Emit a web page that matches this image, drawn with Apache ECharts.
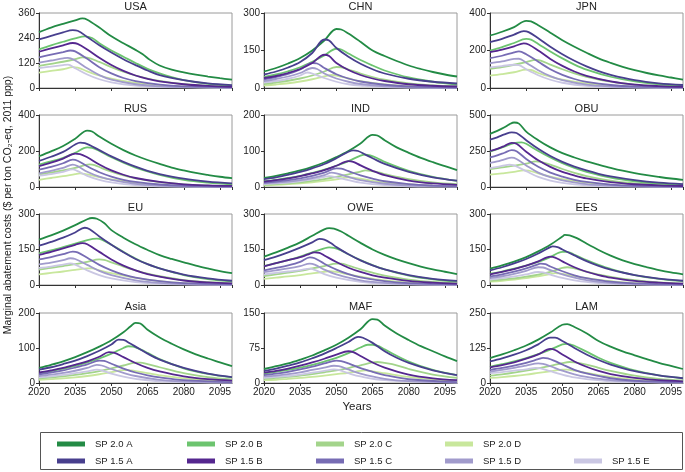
<!DOCTYPE html>
<html><head><meta charset="utf-8">
<script src="https://cdn.jsdelivr.net/npm/echarts@6/dist/echarts.min.js"></script>
<style>html,body{margin:0;padding:0;background:#fff}#c{width:685px;height:472px}</style>
</head><body><div id="c"></div>
<script>
// Scenario names (order of the arrays inside each region)
const scenarios = ['SP 2.0 A','SP 2.0 B','SP 2.0 C','SP 2.0 D','SP 1.5 A','SP 1.5 B','SP 1.5 C','SP 1.5 D','SP 1.5 E'];
const regions = ['USA','CHN','JPN','RUS','IND','OBU','EU','OWE','EES','Asia','MAF','LAM'];
const yMax = [360,300,400,400,200,500,300,300,300,200,150,250];
const yStep = [120,150,200,200,100,250,150,150,150,100,75,125];
const xTickLabels = ['2020','2035','2050','2065','2080','2095'];

// [year, value] pairs per scenario
const USA = [
 [[2020,268],[2025,290],[2030,308],[2035,325],[2038,334],[2040,328],[2045,290],[2050,248],[2055,215],[2060,183],[2063,162],[2066,135],[2070,108],[2075,88],[2080,75],[2085,64],[2090,55],[2095,47],[2100,40]],
 [[2020,185],[2025,205],[2030,222],[2035,238],[2039,248],[2042,240],[2045,215],[2050,180],[2055,150],[2060,120],[2065,92],[2070,70],[2075,52],[2080,38],[2090,20],[2100,10]],
 [[2020,106],[2025,116],[2030,126],[2035,138],[2038,147],[2040,146],[2045,125],[2050,100],[2055,78],[2060,60],[2070,34],[2080,18],[2090,10],[2100,5]],
 [[2020,74],[2025,82],[2030,90],[2034,100],[2036,98],[2040,80],[2045,60],[2050,45],[2060,24],[2070,12],[2080,6],[2100,2]],
 [[2020,233],[2025,250],[2030,267],[2034,278],[2036,275],[2040,245],[2045,205],[2050,170],[2055,138],[2060,110],[2065,84],[2070,62],[2080,38],[2090,22],[2100,14]],
 [[2020,174],[2025,190],[2030,205],[2034,216],[2036,212],[2040,185],[2045,145],[2050,110],[2055,82],[2060,60],[2065,44],[2070,32],[2080,18],[2090,10],[2100,6]],
 [[2020,147],[2025,160],[2030,172],[2033,180],[2035,176],[2040,140],[2045,100],[2050,70],[2055,48],[2060,33],[2070,16],[2080,8],[2100,3]],
 [[2020,122],[2025,132],[2030,142],[2032,145],[2035,132],[2040,95],[2045,62],[2050,40],[2060,18],[2070,8],[2080,4],[2100,1]],
 [[2020,95],[2025,103],[2030,110],[2032,112],[2035,95],[2040,65],[2045,42],[2050,27],[2060,11],[2070,5],[2100,1]]
];
const CHN = [
 [[2020,66],[2025,80],[2030,98],[2035,120],[2040,150],[2045,190],[2050,236],[2052,234],[2055,218],[2060,185],[2065,150],[2070,128],[2075,108],[2080,90],[2085,76],[2090,64],[2095,54],[2100,46]],
 [[2020,44],[2025,54],[2030,67],[2035,83],[2040,105],[2045,130],[2050,157],[2052,154],[2055,138],[2060,112],[2065,90],[2070,70],[2080,42],[2090,25],[2100,14]],
 [[2020,16],[2025,22],[2030,29],[2035,38],[2040,50],[2045,66],[2050,84],[2052,83],[2055,74],[2060,58],[2065,44],[2070,33],[2080,18],[2090,10],[2100,6]],
 [[2020,10],[2025,14],[2030,19],[2035,26],[2040,35],[2045,46],[2048,52],[2050,50],[2055,38],[2060,27],[2070,14],[2080,7],[2100,2]],
 [[2020,54],[2025,66],[2030,82],[2035,104],[2040,140],[2045,194],[2047,190],[2050,160],[2055,125],[2060,97],[2065,75],[2070,58],[2080,37],[2090,25],[2100,18]],
 [[2020,40],[2025,48],[2030,60],[2035,76],[2040,100],[2045,133],[2047,128],[2050,100],[2055,72],[2060,52],[2065,38],[2070,28],[2080,15],[2090,9],[2100,6]],
 [[2020,35],[2025,44],[2030,56],[2035,74],[2040,100],[2042,98],[2045,80],[2050,55],[2055,38],[2060,26],[2070,13],[2080,6],[2100,2]],
 [[2020,28],[2025,36],[2030,46],[2035,60],[2040,80],[2042,76],[2045,58],[2050,38],[2055,25],[2060,16],[2070,7],[2080,3],[2100,1]],
 [[2020,22],[2025,28],[2030,37],[2035,50],[2038,62],[2040,58],[2045,40],[2050,25],[2055,15],[2060,10],[2070,4],[2100,1]]
];
const JPN = [
 [[2020,280],[2025,300],[2030,325],[2035,358],[2037,355],[2040,335],[2045,295],[2050,255],[2055,220],[2060,188],[2065,158],[2070,134],[2075,113],[2080,95],[2085,80],[2090,67],[2095,56],[2100,45]],
 [[2020,200],[2025,218],[2030,240],[2035,262],[2037,258],[2040,235],[2045,195],[2050,158],[2055,125],[2060,98],[2070,60],[2080,35],[2090,20],[2100,12]],
 [[2020,102],[2025,112],[2030,124],[2035,138],[2039,150],[2041,146],[2045,125],[2050,100],[2055,78],[2060,60],[2070,34],[2080,18],[2090,10],[2100,5]],
 [[2020,66],[2025,74],[2030,84],[2035,98],[2037,96],[2040,80],[2045,60],[2050,44],[2060,24],[2070,12],[2080,6],[2100,2]],
 [[2020,245],[2025,262],[2030,285],[2034,303],[2036,298],[2040,265],[2045,220],[2050,180],[2055,145],[2060,115],[2065,90],[2070,70],[2080,42],[2090,25],[2100,16]],
 [[2020,191],[2025,205],[2030,222],[2034,238],[2036,232],[2040,200],[2045,155],[2050,118],[2055,88],[2060,65],[2070,35],[2080,18],[2090,10],[2100,6]],
 [[2020,159],[2025,172],[2030,190],[2032,195],[2035,180],[2040,140],[2045,100],[2050,70],[2055,48],[2060,33],[2070,16],[2080,8],[2100,3]],
 [[2020,132],[2025,142],[2030,155],[2032,156],[2035,135],[2040,95],[2045,63],[2050,42],[2060,18],[2070,8],[2080,4],[2100,1]],
 [[2020,110],[2025,117],[2030,124],[2032,122],[2035,100],[2040,68],[2045,44],[2050,28],[2060,11],[2070,5],[2100,1]]
];
const RUS = [
 [[2020,171],[2025,198],[2030,228],[2035,268],[2040,313],[2042,308],[2045,280],[2050,240],[2055,205],[2060,175],[2065,150],[2070,128],[2075,108],[2080,92],[2085,78],[2090,67],[2095,57],[2100,49]],
 [[2020,125],[2025,142],[2030,162],[2035,190],[2040,220],[2042,218],[2045,200],[2050,165],[2055,135],[2060,108],[2070,68],[2080,40],[2090,24],[2100,14]],
 [[2020,70],[2025,80],[2030,92],[2035,106],[2041,126],[2043,122],[2046,105],[2050,85],[2055,64],[2060,48],[2070,27],[2080,15],[2090,8],[2100,4]],
 [[2020,40],[2025,50],[2030,60],[2035,72],[2037,76],[2040,70],[2045,55],[2050,42],[2060,24],[2070,12],[2080,6],[2100,2]],
 [[2020,145],[2025,168],[2030,195],[2035,236],[2037,247],[2039,244],[2045,205],[2050,170],[2055,140],[2060,113],[2065,90],[2070,72],[2080,46],[2090,30],[2100,20]],
 [[2020,116],[2025,135],[2030,158],[2035,185],[2037,183],[2040,165],[2045,125],[2050,92],[2055,68],[2060,50],[2070,28],[2080,15],[2090,9],[2100,6]],
 [[2020,97],[2025,112],[2030,132],[2034,152],[2036,146],[2040,115],[2045,82],[2050,58],[2055,40],[2060,28],[2070,14],[2080,7],[2100,2]],
 [[2020,76],[2025,90],[2030,106],[2034,124],[2036,116],[2040,85],[2045,58],[2050,40],[2060,18],[2070,8],[2080,4],[2100,1]],
 [[2020,63],[2025,72],[2030,84],[2034,98],[2036,88],[2040,62],[2045,40],[2050,26],[2060,10],[2070,4],[2100,1]]
];
const IND = [
 [[2020,25],[2025,31],[2030,38],[2035,46],[2040,56],[2045,68],[2050,83],[2055,100],[2060,121],[2065,145],[2067,143],[2070,130],[2075,110],[2080,95],[2085,81],[2090,69],[2095,58],[2100,47]],
 [[2020,16],[2025,20],[2030,25],[2035,31],[2040,39],[2045,48],[2050,59],[2055,72],[2060,87],[2062,90],[2064,88],[2067,80],[2070,70],[2080,45],[2090,28],[2100,17]],
 [[2020,6],[2025,8],[2030,10],[2035,13],[2040,17],[2045,22],[2050,28],[2055,35],[2060,43],[2062,46],[2064,45],[2068,40],[2070,36],[2080,22],[2090,13],[2100,8]],
 [[2020,4],[2025,6],[2030,8],[2035,10],[2040,13],[2045,17],[2050,21],[2055,27],[2057,26],[2060,23],[2065,17],[2070,12],[2080,7],[2090,4],[2100,2]],
 [[2020,22],[2025,27],[2030,34],[2035,42],[2040,52],[2045,64],[2050,80],[2055,98],[2057,102],[2059,100],[2062,90],[2065,80],[2070,64],[2080,42],[2090,27],[2100,18]],
 [[2020,15],[2025,19],[2030,24],[2035,30],[2040,38],[2045,47],[2050,59],[2055,72],[2057,70],[2060,60],[2065,45],[2070,33],[2080,18],[2090,10],[2100,6]],
 [[2020,12],[2025,15],[2030,19],[2035,24],[2040,31],[2045,40],[2050,52],[2052,51],[2055,44],[2060,32],[2065,23],[2070,16],[2080,8],[2090,4],[2100,2]],
 [[2020,10],[2025,12],[2030,15],[2035,19],[2040,25],[2045,33],[2048,40],[2050,38],[2055,28],[2060,19],[2070,9],[2080,4],[2100,1]],
 [[2020,8],[2025,10],[2030,12],[2035,16],[2040,21],[2045,28],[2047,30],[2050,27],[2055,19],[2060,12],[2070,5],[2080,2],[2100,1]]
];
const OBU = [
 [[2020,369],[2023,390],[2026,415],[2028,435],[2030,448],[2032,440],[2035,385],[2040,325],[2045,275],[2050,235],[2055,205],[2060,178],[2065,155],[2070,133],[2075,113],[2080,96],[2085,82],[2090,70],[2095,59],[2100,50]],
 [[2020,245],[2025,275],[2030,305],[2033,310],[2035,300],[2040,250],[2045,205],[2050,165],[2055,132],[2060,105],[2070,65],[2080,40],[2090,24],[2100,15]],
 [[2020,125],[2025,136],[2030,148],[2035,162],[2039,178],[2041,175],[2045,155],[2050,125],[2055,98],[2060,76],[2070,44],[2080,25],[2090,14],[2100,8]],
 [[2020,86],[2025,95],[2030,105],[2034,116],[2036,114],[2040,95],[2045,72],[2050,54],[2060,30],[2070,16],[2080,8],[2100,2]],
 [[2020,329],[2023,345],[2026,365],[2029,380],[2031,375],[2035,325],[2040,265],[2045,215],[2050,175],[2055,142],[2060,115],[2065,92],[2070,74],[2080,48],[2090,30],[2100,20]],
 [[2020,250],[2023,265],[2026,285],[2029,307],[2031,300],[2035,245],[2040,185],[2045,140],[2050,105],[2055,80],[2060,60],[2070,34],[2080,19],[2090,11],[2100,7]],
 [[2020,205],[2023,220],[2026,238],[2029,256],[2031,248],[2035,195],[2040,140],[2045,100],[2050,72],[2055,50],[2060,35],[2070,17],[2080,8],[2100,3]],
 [[2020,167],[2023,178],[2026,192],[2029,204],[2031,195],[2035,150],[2040,100],[2045,68],[2050,46],[2060,20],[2070,9],[2080,4],[2100,1]],
 [[2020,131],[2023,140],[2026,150],[2028,156],[2030,150],[2035,110],[2040,70],[2045,45],[2050,29],[2060,12],[2070,5],[2100,1]]
];
const EU = [
 [[2020,192],[2025,210],[2030,230],[2035,253],[2040,278],[2042,283],[2044,280],[2047,262],[2050,232],[2055,200],[2060,172],[2065,148],[2070,126],[2075,110],[2080,96],[2085,82],[2090,70],[2095,59],[2100,50]],
 [[2020,134],[2025,146],[2030,160],[2035,175],[2040,190],[2044,196],[2046,192],[2050,170],[2055,140],[2060,112],[2065,88],[2070,70],[2080,42],[2090,25],[2100,15]],
 [[2020,65],[2025,72],[2030,80],[2035,88],[2040,98],[2045,108],[2047,106],[2050,96],[2055,78],[2060,62],[2065,48],[2070,37],[2080,21],[2090,12],[2100,7]],
 [[2020,45],[2025,51],[2030,57],[2035,64],[2040,70],[2042,70],[2045,62],[2050,50],[2060,30],[2070,16],[2080,8],[2100,2]],
 [[2020,166],[2025,182],[2030,200],[2035,222],[2039,242],[2041,236],[2045,205],[2050,170],[2055,138],[2060,110],[2065,88],[2070,70],[2080,44],[2090,28],[2100,18]],
 [[2020,127],[2025,140],[2030,155],[2035,170],[2038,177],[2040,172],[2045,140],[2050,108],[2055,82],[2060,62],[2065,46],[2070,35],[2080,19],[2090,11],[2100,7]],
 [[2020,108],[2025,118],[2030,130],[2034,141],[2036,138],[2040,115],[2045,85],[2050,62],[2055,44],[2060,31],[2070,16],[2080,8],[2100,3]],
 [[2020,87],[2025,95],[2030,105],[2033,113],[2035,110],[2040,85],[2045,60],[2050,42],[2060,20],[2070,9],[2080,4],[2100,1]],
 [[2020,72],[2025,78],[2030,86],[2033,91],[2035,86],[2040,62],[2045,42],[2050,28],[2060,12],[2070,5],[2100,1]]
];
const OWE = [
 [[2020,120],[2025,138],[2030,158],[2035,180],[2040,208],[2045,235],[2047,240],[2049,238],[2052,226],[2055,208],[2060,178],[2065,150],[2070,127],[2075,108],[2080,92],[2085,78],[2090,66],[2095,56],[2100,46]],
 [[2020,80],[2025,92],[2030,105],[2035,120],[2040,138],[2045,155],[2047,159],[2049,157],[2052,146],[2055,130],[2060,105],[2065,84],[2070,66],[2080,40],[2090,24],[2100,14]],
 [[2020,38],[2025,45],[2030,52],[2035,60],[2040,70],[2045,80],[2050,90],[2052,90],[2055,82],[2060,66],[2065,52],[2070,40],[2080,23],[2090,13],[2100,7]],
 [[2020,26],[2025,31],[2030,36],[2035,42],[2040,49],[2045,56],[2047,58],[2050,55],[2055,45],[2060,35],[2070,19],[2080,10],[2100,3]],
 [[2020,105],[2025,120],[2030,138],[2035,158],[2040,180],[2043,195],[2045,192],[2048,175],[2050,160],[2055,130],[2060,104],[2065,83],[2070,66],[2080,42],[2090,26],[2100,17]],
 [[2020,79],[2025,92],[2030,105],[2035,118],[2038,128],[2041,138],[2043,136],[2045,125],[2050,97],[2055,73],[2060,55],[2065,41],[2070,31],[2080,17],[2090,10],[2100,6]],
 [[2020,62],[2025,72],[2030,83],[2035,98],[2039,117],[2041,113],[2045,90],[2050,65],[2055,46],[2060,32],[2070,16],[2080,8],[2100,3]],
 [[2020,55],[2025,62],[2030,70],[2035,80],[2039,90],[2041,86],[2045,65],[2050,45],[2060,20],[2070,9],[2080,4],[2100,1]],
 [[2020,45],[2025,51],[2030,57],[2035,63],[2039,69],[2041,64],[2045,46],[2050,31],[2060,13],[2070,5],[2100,1]]
];
const EES = [
 [[2020,69],[2025,83],[2030,99],[2035,118],[2040,142],[2045,170],[2050,205],[2051,212],[2053,210],[2056,198],[2060,175],[2065,148],[2070,124],[2075,104],[2080,88],[2085,75],[2090,63],[2095,53],[2100,45]],
 [[2020,48],[2025,57],[2030,69],[2035,82],[2040,98],[2045,118],[2050,140],[2052,140],[2055,128],[2060,105],[2065,85],[2070,68],[2080,42],[2090,26],[2100,16]],
 [[2020,18],[2025,23],[2030,28],[2035,35],[2040,44],[2045,55],[2050,72],[2052,75],[2055,70],[2060,56],[2065,44],[2070,34],[2080,20],[2090,11],[2100,6]],
 [[2020,14],[2025,18],[2030,23],[2035,29],[2040,37],[2045,46],[2047,50],[2050,47],[2055,38],[2060,29],[2070,16],[2080,8],[2100,3]],
 [[2020,62],[2025,75],[2030,91],[2035,110],[2040,133],[2045,160],[2046,163],[2048,160],[2050,150],[2055,125],[2060,101],[2065,81],[2070,65],[2080,42],[2090,27],[2100,18]],
 [[2020,45],[2025,55],[2030,67],[2035,82],[2040,100],[2045,120],[2047,116],[2050,100],[2055,75],[2060,56],[2065,42],[2070,31],[2080,17],[2090,10],[2100,6]],
 [[2020,36],[2025,45],[2030,56],[2035,70],[2039,84],[2041,90],[2043,88],[2045,78],[2050,58],[2055,41],[2060,29],[2070,14],[2080,7],[2100,2]],
 [[2020,29],[2025,37],[2030,47],[2035,60],[2040,75],[2042,74],[2045,63],[2050,45],[2055,31],[2060,21],[2070,9],[2080,4],[2100,1]],
 [[2020,23],[2025,29],[2030,36],[2035,45],[2040,55],[2042,53],[2045,44],[2050,30],[2055,20],[2060,13],[2070,5],[2100,1]]
];
const Asia = [
 [[2020,43],[2025,52],[2030,62],[2035,74],[2040,88],[2045,104],[2050,122],[2055,145],[2058,162],[2060,172],[2062,170],[2065,152],[2070,130],[2075,112],[2080,96],[2085,82],[2090,70],[2095,59],[2100,48]],
 [[2020,28],[2025,34],[2030,41],[2035,49],[2040,59],[2045,70],[2050,84],[2055,100],[2057,105],[2059,104],[2062,96],[2065,86],[2070,68],[2080,42],[2090,26],[2100,16]],
 [[2020,13],[2025,16],[2030,19],[2035,23],[2040,28],[2045,34],[2050,42],[2055,50],[2060,58],[2062,58],[2065,54],[2070,45],[2080,28],[2090,17],[2100,10]],
 [[2020,9],[2025,11],[2030,13],[2035,16],[2040,20],[2045,25],[2050,31],[2055,37],[2057,37],[2060,34],[2065,28],[2070,22],[2080,13],[2090,8],[2100,4]],
 [[2020,38],[2025,45],[2030,54],[2035,64],[2040,77],[2045,92],[2050,110],[2053,124],[2055,123],[2058,112],[2060,104],[2065,84],[2070,67],[2080,43],[2090,27],[2100,17]],
 [[2020,30],[2025,36],[2030,43],[2035,52],[2040,62],[2045,75],[2049,88],[2051,87],[2055,74],[2060,57],[2065,43],[2070,33],[2080,19],[2090,11],[2100,7]],
 [[2020,25],[2025,30],[2030,36],[2035,44],[2040,53],[2045,64],[2047,63],[2050,55],[2055,41],[2060,30],[2065,22],[2070,16],[2080,8],[2100,2]],
 [[2020,20],[2025,24],[2030,29],[2035,35],[2040,43],[2044,52],[2046,50],[2050,40],[2055,29],[2060,20],[2070,9],[2080,4],[2100,1]],
 [[2020,16],[2025,19],[2030,23],[2035,28],[2040,33],[2044,38],[2046,36],[2050,27],[2055,18],[2060,12],[2070,5],[2100,1]]
];
const MAF = [
 [[2020,30],[2025,36],[2030,42],[2035,50],[2040,59],[2045,70],[2050,82],[2055,97],[2060,115],[2065,137],[2067,136],[2070,123],[2075,106],[2080,92],[2085,79],[2090,68],[2095,57],[2100,47]],
 [[2020,20],[2025,24],[2030,28],[2035,33],[2040,39],[2045,46],[2050,54],[2055,64],[2060,76],[2063,82],[2065,82],[2068,78],[2070,72],[2080,46],[2090,28],[2100,17]],
 [[2020,9],[2025,11],[2030,13],[2035,16],[2040,19],[2045,23],[2050,27],[2055,32],[2060,38],[2065,44],[2067,45],[2070,43],[2075,38],[2080,30],[2090,18],[2100,11]],
 [[2020,6],[2025,7],[2030,9],[2035,11],[2040,13],[2045,16],[2050,19],[2055,22],[2060,26],[2062,27],[2065,25],[2070,21],[2080,13],[2090,8],[2100,4]],
 [[2020,26],[2025,31],[2030,37],[2035,44],[2040,53],[2045,63],[2050,75],[2055,88],[2059,99],[2061,97],[2065,86],[2070,68],[2075,54],[2080,43],[2090,27],[2100,17]],
 [[2020,22],[2025,26],[2030,31],[2035,37],[2040,44],[2045,52],[2050,61],[2055,68],[2057,66],[2060,58],[2065,44],[2070,33],[2080,18],[2090,10],[2100,6]],
 [[2020,17],[2025,20],[2030,24],[2035,29],[2040,35],[2045,42],[2050,48],[2052,47],[2055,42],[2060,32],[2065,24],[2070,17],[2080,8],[2100,2]],
 [[2020,14],[2025,16],[2030,19],[2035,23],[2040,28],[2045,33],[2049,37],[2051,36],[2055,29],[2060,20],[2070,9],[2080,4],[2100,1]],
 [[2020,11],[2025,13],[2030,15],[2035,18],[2040,22],[2045,26],[2049,29],[2051,28],[2055,21],[2060,14],[2070,6],[2100,1]]
];
const LAM = [
 [[2020,89],[2025,102],[2030,117],[2035,134],[2040,155],[2045,180],[2050,208],[2052,210],[2055,200],[2060,178],[2065,150],[2070,130],[2075,113],[2080,99],[2085,85],[2090,72],[2095,61],[2100,50]],
 [[2020,58],[2025,67],[2030,77],[2035,89],[2040,103],[2045,119],[2050,138],[2052,140],[2055,133],[2060,112],[2065,90],[2070,72],[2080,45],[2090,27],[2100,17]],
 [[2020,26],[2025,31],[2030,37],[2035,44],[2040,52],[2045,61],[2050,71],[2053,75],[2055,74],[2060,66],[2065,54],[2070,43],[2080,26],[2090,15],[2100,9]],
 [[2020,18],[2025,21],[2030,25],[2035,30],[2040,36],[2045,42],[2050,48],[2052,48],[2055,44],[2060,36],[2065,28],[2070,22],[2080,12],[2090,7],[2100,3]],
 [[2020,77],[2025,88],[2030,101],[2035,117],[2040,138],[2045,162],[2047,162],[2050,150],[2055,125],[2060,102],[2065,82],[2070,66],[2080,42],[2090,27],[2100,17]],
 [[2020,56],[2025,64],[2030,74],[2035,87],[2040,102],[2045,122],[2047,118],[2050,102],[2055,77],[2060,58],[2065,43],[2070,32],[2080,18],[2090,10],[2100,6]],
 [[2020,47],[2025,54],[2030,62],[2035,72],[2040,85],[2042,90],[2044,88],[2047,78],[2050,66],[2055,47],[2060,34],[2070,17],[2080,8],[2100,3]],
 [[2020,41],[2025,47],[2030,54],[2035,62],[2040,70],[2042,68],[2045,60],[2050,44],[2055,31],[2060,22],[2070,10],[2080,5],[2100,1]],
 [[2020,35],[2025,39],[2030,44],[2035,49],[2039,54],[2041,52],[2045,42],[2050,30],[2055,20],[2060,14],[2070,6],[2100,1]]
];
const regionData = [USA,CHN,JPN,RUS,IND,OBU,EU,OWE,EES,Asia,MAF,LAM];

const colors = ['#238b45','#6cc46f','#a3d48b','#c8e79c','#483f8e','#55278f','#776cb4','#a19bcc','#cac7e3'];
const colLeft = [39, 264, 490];
const rowTop = [13, 115, 214, 313];
const rowH = [75, 72, 71, 70];
const gW = 193;

const grids=[], xAxes=[], yAxes=[], series=[];
regions.forEach((r,i)=>{
  const col=i%3, row=Math.floor(i/3);
  grids.push({left:colLeft[col], top:rowTop[row], width:gW, height:rowH[row], show:true, borderColor:'#9a9a9a', borderWidth:1, containLabel:false});
  xAxes.push({type:'value', gridIndex:i, min:0, max:80, interval:15,
    axisLine:{show:true, lineStyle:{color:'#333',width:1}},
    axisTick:{show:true, length:3, lineStyle:{color:'#333'}},
    splitLine:{show:false},
    axisLabel:{show:row===3, fontSize:10, color:'#222', margin:4, fontFamily:'Liberation Sans, Arial, sans-serif',
      showMaxLabel:false, formatter:v=>{const k=Math.round(v/15); return (v%15===0 && k<xTickLabels.length)?xTickLabels[k]:'';}}
  });
  yAxes.push({type:'value', gridIndex:i, min:0, max:yMax[i], interval:yStep[i],
    axisLine:{show:true, lineStyle:{color:'#333',width:1}},
    axisTick:{show:true, length:3, lineStyle:{color:'#333'}},
    splitLine:{show:false},
    axisLabel:{fontSize:10, color:'#222', margin:4, fontFamily:'Liberation Sans, Arial, sans-serif'}
  });
  const order=[3,2,1,0,8,7,6,5,4];
  order.forEach(j=>{
    series.push({type:'line', name:scenarios[j], xAxisIndex:i, yAxisIndex:i,
      data: regionData[i][j].map(p=>[p[0]-2020,p[1]]),
      smooth:0.35, showSymbol:false, symbol:'none', silent:true,
      lineStyle:{width:1.8, color:colors[j]}, itemStyle:{color:colors[j]}, z:2});
  });
});

// Titles as graphic text centered over each grid
const titleGraphics = regions.map((r,i)=>{
  const col=i%3, row=Math.floor(i/3);
  return {type:'text', x:colLeft[col]+gW/2, y:rowTop[row]-12, style:{text:r, fill:'#222', font:'11px Liberation Sans, Arial, sans-serif', textAlign:'center', textVerticalAlign:'top'}};
});

const legends = [];
const legX = [57,187,316,445,574];
scenarios.forEach((s,j)=>{
  const row = j<4?0:1;
  const c = j<4?j:j-4;
  legends.push({data:[s], left:legX[c], top: row===0?439:456, padding:0, icon:'rect', itemWidth:28, itemHeight:5,
    textStyle:{fontSize:9.5, color:'#222', fontFamily:'Liberation Sans, Arial, sans-serif', padding:[0,0,0,5]}, selectedMode:false});
});

const chart = echarts.init(document.getElementById('c'), null, {renderer:'canvas'});
chart.setOption({
  animation:false,
  grid:grids, xAxis:xAxes, yAxis:yAxes, series:series, legend:legends,
  graphic:[
    ...titleGraphics,
    {type:'text', x:8, y:205, rotation:Math.PI/2, style:{text:'Marginal abatement costs ($ per ton CO\u2082-eq, 2011 ppp)', fill:'#222', font:'10.5px Liberation Sans, Arial, sans-serif', textAlign:'center', textVerticalAlign:'middle'}},
    {type:'text', x:357, y:401, style:{text:'Years', fill:'#222', font:'11.5px Liberation Sans, Arial, sans-serif', textAlign:'center', textVerticalAlign:'top'}},
    {type:'rect', shape:{x:40.5, y:432.5, width:642, height:37}, style:{fill:'none', stroke:'#555', lineWidth:1}}
  ]
});
</script></body></html>
